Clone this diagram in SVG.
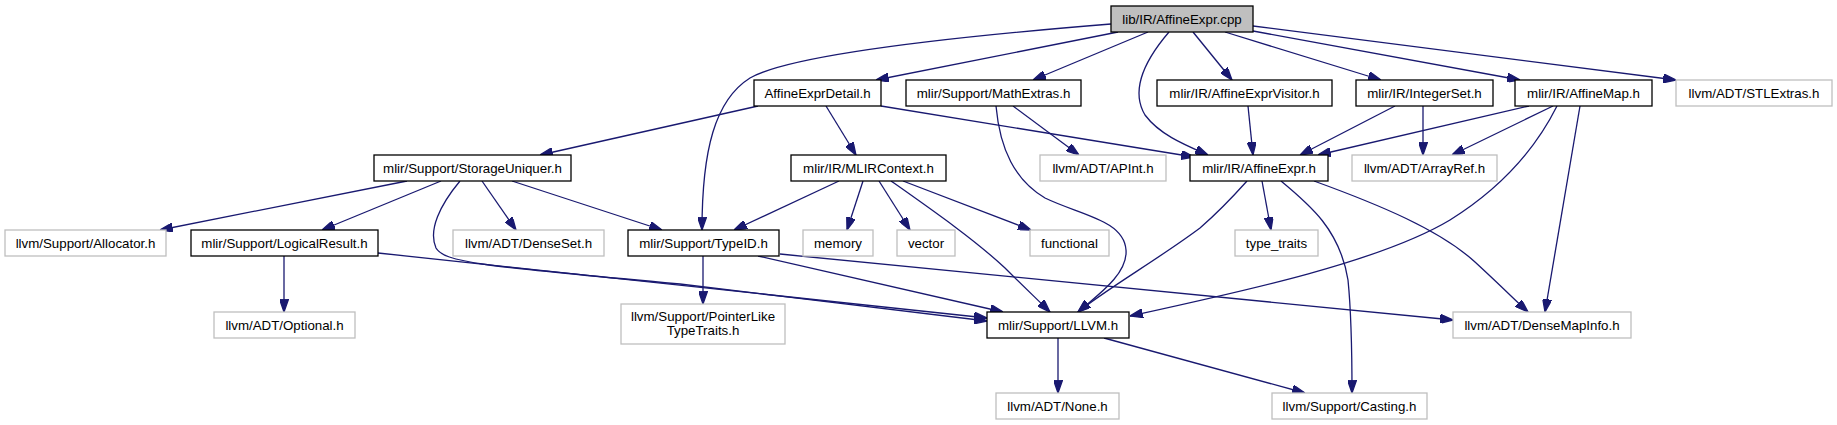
<svg xmlns="http://www.w3.org/2000/svg" width="1837" height="425" viewBox="0 0 1837 425">
<style>
.n rect{fill:#ffffff;stroke:#000000;stroke-width:1.3}
.n.ext rect{stroke:#bfbfbf}
.n.cur rect{fill:#bfbfbf}
.n text{font-family:"Liberation Sans",Arial,sans-serif;font-size:13.3px;fill:#000000;text-anchor:middle}
#edges path{fill:none;stroke:#191970;stroke-width:1.3;marker-end:url(#arr)}
</style>
<defs>
<marker id="arr" viewBox="0 0 10 7" refX="10" refY="3.5" markerWidth="13" markerHeight="9" markerUnits="userSpaceOnUse" orient="auto">
<path d="M0,0 L10,3.5 L0,7 z" fill="#191970" stroke="#191970"/>
</marker>
</defs>
<rect width="1837" height="425" fill="#ffffff"/>
<g id="edges">
<path d="M1111,24 C950,37 790,55 750,78 C715,100 702,150 702,230"/>
<path d="M1118,32 L876,80"/>
<path d="M1148,32 L1033,80"/>
<path d="M1193,32 L1232,80"/>
<path d="M1225,32 L1381,80"/>
<path d="M1253,31 L1520,80"/>
<path d="M1253,26 L1676,80"/>
<path d="M1169,32 C1145,60 1130,90 1145,115 C1160,135 1185,145 1208,155"/>
<path d="M758,106 L540,155"/>
<path d="M826,106 L856,155"/>
<path d="M881,106 L1194,157"/>
<path d="M1013,106 L1079,155"/>
<path d="M996,106 C1000,150 1015,180 1045,198 C1080,215 1124,220 1126,250 C1128,275 1095,297 1078,312"/>
<path d="M1248,106 L1253,155"/>
<path d="M1395,106 L1300,155"/>
<path d="M1423,106 L1423,155"/>
<path d="M1529,106 L1318,155"/>
<path d="M1553,106 L1452,155"/>
<path d="M1557,106 C1530,160 1490,195 1450,220 C1380,262 1240,292 1130,316"/>
<path d="M1580,106 L1545,312"/>
<path d="M407,181 L160,230"/>
<path d="M441,181 L322,230"/>
<path d="M482,181 L516,230"/>
<path d="M512,181 L662,230"/>
<path d="M460,181 C440,205 428,230 436,248 C444,262 480,266 680,284 L987,321"/>
<path d="M839,181 L734,230"/>
<path d="M863,181 L847,230"/>
<path d="M879,181 L910,230"/>
<path d="M903,181 L1031,230"/>
<path d="M891,181 C935,212 975,240 1005,268 C1025,288 1040,302 1050,312"/>
<path d="M1262,181 L1271,230"/>
<path d="M1247,181 C1230,200 1215,215 1200,228 C1160,258 1105,290 1078,312"/>
<path d="M1281,181 C1310,205 1340,230 1348,280 C1352,320 1352,360 1352,393"/>
<path d="M1314,181 C1380,205 1440,230 1475,262 C1500,285 1515,300 1528,312"/>
<path d="M284,256 L284,312"/>
<path d="M378,253 L987,318"/>
<path d="M703,256 L703,304"/>
<path d="M758,256 L1003,312"/>
<path d="M780,254 C1000,275 1220,298 1453,320"/>
<path d="M1058,338 L1058,393"/>
<path d="M1104,338 L1305,393"/>
</g>
<g id="n-cpp" class="n cur"><rect x="1111" y="6" width="142" height="26"/><text x="1182" y="23.5">lib/IR/AffineExpr.cpp</text></g>
<g id="n-detail" class="n"><rect x="754" y="80" width="127" height="26"/><text x="817.5" y="97.5">AffineExprDetail.h</text></g>
<g id="n-math" class="n"><rect x="906" y="80" width="175" height="26"/><text x="993.5" y="97.5">mlir/Support/MathExtras.h</text></g>
<g id="n-visitor" class="n"><rect x="1157" y="80" width="175" height="26"/><text x="1244.5" y="97.5">mlir/IR/AffineExprVisitor.h</text></g>
<g id="n-intset" class="n"><rect x="1356" y="80" width="137" height="26"/><text x="1424.5" y="97.5">mlir/IR/IntegerSet.h</text></g>
<g id="n-affmap" class="n"><rect x="1515" y="80" width="137" height="26"/><text x="1583.5" y="97.5">mlir/IR/AffineMap.h</text></g>
<g id="n-stlextras" class="n ext"><rect x="1676" y="80" width="156" height="26"/><text x="1754" y="97.5">llvm/ADT/STLExtras.h</text></g>
<g id="n-storage" class="n"><rect x="374" y="155" width="197" height="26"/><text x="472.5" y="172.5">mlir/Support/StorageUniquer.h</text></g>
<g id="n-mlirctx" class="n"><rect x="791" y="155" width="155" height="26"/><text x="868.5" y="172.5">mlir/IR/MLIRContext.h</text></g>
<g id="n-apint" class="n ext"><rect x="1040" y="155" width="126" height="26"/><text x="1103" y="172.5">llvm/ADT/APInt.h</text></g>
<g id="n-affexpr" class="n"><rect x="1190" y="155" width="138" height="26"/><text x="1259" y="172.5">mlir/IR/AffineExpr.h</text></g>
<g id="n-arrayref" class="n ext"><rect x="1352" y="155" width="145" height="26"/><text x="1424.5" y="172.5">llvm/ADT/ArrayRef.h</text></g>
<g id="n-alloc" class="n ext"><rect x="5" y="230" width="161" height="26"/><text x="85.5" y="247.5">llvm/Support/Allocator.h</text></g>
<g id="n-logres" class="n"><rect x="191" y="230" width="187" height="26"/><text x="284.5" y="247.5">mlir/Support/LogicalResult.h</text></g>
<g id="n-denseset" class="n ext"><rect x="453" y="230" width="151" height="26"/><text x="528.5" y="247.5">llvm/ADT/DenseSet.h</text></g>
<g id="n-typeid" class="n"><rect x="628" y="230" width="151" height="26"/><text x="703.5" y="247.5">mlir/Support/TypeID.h</text></g>
<g id="n-memory" class="n ext"><rect x="803" y="230" width="70" height="26"/><text x="838" y="247.5">memory</text></g>
<g id="n-vector" class="n ext"><rect x="897" y="230" width="58" height="26"/><text x="926" y="247.5">vector</text></g>
<g id="n-functional" class="n ext"><rect x="1030" y="230" width="79" height="26"/><text x="1069.5" y="247.5">functional</text></g>
<g id="n-typetraits" class="n ext"><rect x="1235" y="230" width="83" height="26"/><text x="1276.5" y="247.5">type_traits</text></g>
<g id="n-optional" class="n ext"><rect x="214" y="312" width="141" height="26"/><text x="284.5" y="329.5">llvm/ADT/Optional.h</text></g>
<g id="n-ptrlike" class="n ext"><rect x="621" y="304" width="164" height="40"/><text x="703" y="321">llvm/Support/PointerLike</text><text x="703" y="335">TypeTraits.h</text></g>
<g id="n-llvm" class="n"><rect x="987" y="312" width="142" height="26"/><text x="1058" y="329.5">mlir/Support/LLVM.h</text></g>
<g id="n-densemapinfo" class="n ext"><rect x="1453" y="312" width="178" height="26"/><text x="1542" y="329.5">llvm/ADT/DenseMapInfo.h</text></g>
<g id="n-none" class="n ext"><rect x="996" y="393" width="123" height="26"/><text x="1057.5" y="410.5">llvm/ADT/None.h</text></g>
<g id="n-casting" class="n ext"><rect x="1272" y="393" width="155" height="26"/><text x="1349.5" y="410.5">llvm/Support/Casting.h</text></g>
</svg>
